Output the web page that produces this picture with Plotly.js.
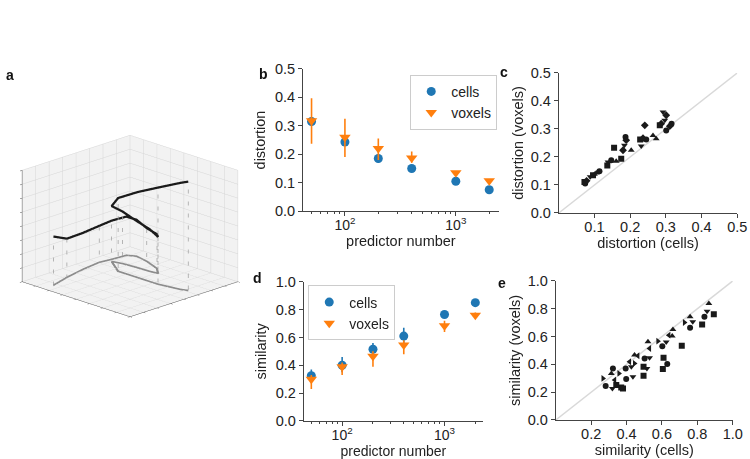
<!DOCTYPE html>
<html>
<head>
<meta charset="utf-8">
<script src="https://cdn.plot.ly/plotly-3.0.1.min.js"></script>
<style>html,body{margin:0;padding:0;background:#fff;}#chart{width:750px;height:459px;}</style>
</head>
<body>
<div id="chart"></div>
<script>
// ---------- data ----------
// panel a: 3D curve (normalised box coordinates)
const curveX = [0.91,0.735,0.55,0.37,0.27,0.145,0.11,0.135,0.19,0.255,0.265,0.27,0.28,0.30,0.41,0.41,0.41,0.38,0.36];
const curveY = [0.20,0.15,0.11,0.085,0.10,0.11,0.17,0.29,0.44,0.515,0.45,0.33,0.21,0.13,0.30,0.48,0.67,0.85,0.90];
const curveZ = [0.44,0.35,0.33,0.33,0.35,0.35,0.33,0.30,0.31,0.33,0.38,0.42,0.47,0.50,0.66,0.77,0.87,0.96,0.98];
const dropIdx = [0,1,3,4,7,8,9,12,14,16,18];

// panels b and d
const predictors = [50,100,200,400,1000,2000];
const cellsDist = [0.315,0.243,0.185,0.150,0.105,0.075];
const cellsDistLo = [0.300,0.235,0.170,0.140,0.100,0.070];
const cellsDistHi = [0.330,0.252,0.200,0.160,0.110,0.080];
const voxDist = [0.318,0.260,0.220,0.187,0.135,0.107];
const voxDistLo = [0.237,0.190,0.180,0.170,0.128,0.100];
const voxDistHi = [0.397,0.325,0.255,0.210,0.140,0.112];

const cellsSim = [0.325,0.400,0.515,0.610,0.765,0.850];
const cellsSimLo = [0.290,0.350,0.470,0.560,0.750,0.840];
const cellsSimHi = [0.370,0.460,0.560,0.670,0.780,0.860];
const voxSim = [0.300,0.390,0.465,0.545,0.685,0.760];
const voxSimLo = [0.230,0.330,0.390,0.480,0.640,0.740];
const voxSimHi = [0.330,0.420,0.500,0.580,0.720,0.780];

// panel c: distortion cells vs voxels, one series per marker
const cCircleX = [0.074,0.114,0.147,0.187,0.245,0.301,0.316];
const cCircleY = [0.105,0.149,0.188,0.271,0.262,0.295,0.319];
const cSquareX = [0.072,0.096,0.136,0.155,0.175,0.228,0.283];
const cSquareY = [0.111,0.135,0.170,0.233,0.194,0.262,0.313];
const cUpX = [0.105,0.161,0.203,0.264,0.273,0.100];
const cUpY = [0.143,0.185,0.224,0.277,0.265,0.138];
const cDownX = [0.088,0.138,0.184,0.231,0.292,0.297];
const cDownY = [0.129,0.182,0.242,0.239,0.361,0.331];
const cDiaX = [0.180,0.189,0.241,0.236,0.287,0.301,0.311,0.078];
const cDiaY = [0.224,0.260,0.313,0.267,0.319,0.349,0.310,0.115];

// panel e: similarity cells vs voxels
const eRightX = [0.267,0.357,0.445,0.577,0.727];
const eRightY = [0.299,0.335,0.407,0.567,0.701];
const eUpX = [0.314,0.445,0.521,0.662,0.658,0.759,0.865];
const eUpY = [0.335,0.467,0.562,0.651,0.603,0.742,0.837];
const eDownX = [0.320,0.427,0.436,0.530,0.515,0.624,0.774,0.855];
const eDownY = [0.227,0.383,0.311,0.447,0.371,0.560,0.706,0.782];
const eCircleX = [0.282,0.323,0.398,0.395,0.502,0.602,0.630,0.759,0.840];
const eCircleY = [0.244,0.371,0.294,0.371,0.443,0.531,0.402,0.663,0.742];
const eSquareX = [0.342,0.370,0.380,0.496,0.496,0.609,0.605,0.712,0.827,0.893];
const eSquareY = [0.251,0.234,0.227,0.383,0.318,0.447,0.366,0.533,0.687,0.761];
const eLeftX = [0.333,0.417,0.464,0.530,0.639];
const eLeftY = [0.287,0.419,0.462,0.514,0.610];

const diagC = [0,0.5];
const diagE = [0,1];

// ---------- styling ----------
const FONT = 'Liberation Sans, Arial, Helvetica, sans-serif';
const BLUE = '#1f77b4', ORANGE = '#ff7f0e', AX = '#444';
const TICKF = {family: FONT, size: 14.5, color: '#222'};
const LOGTICKF = {family: FONT, size: 14, color: '#222'};
const TITLEF = {family: FONT, size: 14.5, color: '#222'};

function errs(v, lo, hi) {
  return {type:'data', symmetric:false,
    array: v.map((x,i)=>hi[i]-x), arrayminus: v.map((x,i)=>x-lo[i]),
    thickness:1.6, width:0};
}

const traces = [];

// ---- panel a (3D) ----
const dx=[],dy=[],dz=[];
dropIdx.forEach(i=>{dx.push(curveX[i],curveX[i],null);dy.push(curveY[i],curveY[i],null);dz.push(0,curveZ[i],null);});
traces.push({type:'scatter3d', mode:'lines', x:dx, y:dy, z:dz, scene:'scene',
  line:{color:'#a0a0a0', width:1.5, dash:'dash'}, showlegend:false, hoverinfo:'skip'});
traces.push({type:'scatter3d', mode:'lines', x:curveX, y:curveY, z:curveX.map(()=>0), scene:'scene',
  line:{color:'#8c8c8c', width:4.5}, showlegend:false});
traces.push({type:'scatter3d', mode:'lines', x:curveX, y:curveY, z:curveZ, scene:'scene',
  line:{color:'#1a1a1a', width:4.5}, showlegend:false});

// ---- panel b ----
traces.push({x:predictors, y:cellsDist, type:'scatter', mode:'markers', name:'cells',
  marker:{color:BLUE, size:9, symbol:'circle'}, error_y:Object.assign(errs(cellsDist,cellsDistLo,cellsDistHi),{color:BLUE}),
  xaxis:'x', yaxis:'y', legend:'legend'});
traces.push({x:predictors, y:voxDist, type:'scatter', mode:'markers', name:'voxels',
  marker:{color:ORANGE, size:10, symbol:'triangle-down'}, error_y:Object.assign(errs(voxDist,voxDistLo,voxDistHi),{color:ORANGE}),
  xaxis:'x', yaxis:'y', legend:'legend'});

// ---- panel c ----
traces.push({x:diagC, y:diagC, type:'scatter', mode:'lines', line:{color:'#d9d9d9', width:1.5}, xaxis:'x2', yaxis:'y2', showlegend:false, hoverinfo:'skip'});
[[cCircleX,cCircleY,'circle'],[cSquareX,cSquareY,'square'],[cUpX,cUpY,'triangle-up'],[cDownX,cDownY,'triangle-down'],[cDiaX,cDiaY,'diamond']].forEach(s=>{
  traces.push({x:s[0], y:s[1], type:'scatter', mode:'markers', marker:{color:'#1a1a1a', size:6, symbol:s[2]}, xaxis:'x2', yaxis:'y2', showlegend:false});
});

// ---- panel d ----
traces.push({x:predictors, y:cellsSim, type:'scatter', mode:'markers', name:'cells',
  marker:{color:BLUE, size:9, symbol:'circle'}, error_y:Object.assign(errs(cellsSim,cellsSimLo,cellsSimHi),{color:BLUE}),
  xaxis:'x3', yaxis:'y3', legend:'legend2'});
traces.push({x:predictors, y:voxSim, type:'scatter', mode:'markers', name:'voxels',
  marker:{color:ORANGE, size:10, symbol:'triangle-down'}, error_y:Object.assign(errs(voxSim,voxSimLo,voxSimHi),{color:ORANGE}),
  xaxis:'x3', yaxis:'y3', legend:'legend2'});

// ---- panel e ----
traces.push({x:diagE, y:diagE, type:'scatter', mode:'lines', line:{color:'#d9d9d9', width:1.5}, xaxis:'x4', yaxis:'y4', showlegend:false, hoverinfo:'skip'});
[[eCircleX,eCircleY,'circle'],[eSquareX,eSquareY,'square'],[eUpX,eUpY,'triangle-up'],[eDownX,eDownY,'triangle-down'],[eLeftX,eLeftY,'triangle-left'],[eRightX,eRightY,'triangle-right']].forEach(s=>{
  traces.push({x:s[0], y:s[1], type:'scatter', mode:'markers', marker:{color:'#1a1a1a', size:6, symbol:s[2]}, xaxis:'x4', yaxis:'y4', showlegend:false});
});

function axBase(extra){
  return Object.assign({showline:true, linecolor:AX, linewidth:1, ticks:'outside', ticklen:4, tickcolor:AX,
    tickfont:TICKF, showgrid:false, zeroline:false, fixedrange:true}, extra);
}
const logMinor = {tickvals:[50,60,70,80,90,200,300,400,500,600,700,800,900,2000], ticks:'outside', ticklen:2, tickcolor:AX, showgrid:false};

const ax3 = {range:[0,1], showticklabels:false, title:{text:''}, showbackground:true, backgroundcolor:'#f2f2f2',
  gridcolor:'#d6d6d6', gridwidth:1, dtick:0.125, tick0:0, showline:true, linecolor:'#555', ticks:'outside', ticklen:3, tickcolor:'#555',
  zeroline:false, showspikes:false};

const layout = {
  width:750, height:459, margin:{l:0,r:0,t:0,b:0}, paper_bgcolor:'#fff', plot_bgcolor:'#fff',
  font:{family:FONT, color:'#222'},
  scene:{domain:{x:[0,0.347], y:[0.238,0.778]},
    xaxis:ax3, yaxis:ax3, zaxis:Object.assign({},ax3),
    aspectmode:'manual', aspectratio:{x:1.23, y:1.23, z:0.95},
    camera:{eye:{x:1.05, y:1.05, z:0.51}, center:{x:0,y:0,z:0}, projection:{type:'orthographic'}},
    dragmode:false},
  xaxis: axBase({type:'log', range:[1.622,3.387], domain:[0.404,0.665], anchor:'y', tickvals:[100,1000], ticklabelstandoff:-3,
    tickfont:LOGTICKF, ticktext:['10<sup>2</sup>','10<sup>3</sup>'], minor:logMinor, title:{text:'predictor number', font:TITLEF, standoff:1}}),
  yaxis: axBase({range:[0,0.5], domain:[0.540,0.850], anchor:'x', tickvals:[0,0.1,0.2,0.3,0.4,0.5], tickformat:'.1f',
    title:{text:'distortion', font:TITLEF, standoff:5}}),
  xaxis2: axBase({range:[0,0.5], domain:[0.745,0.983], anchor:'y2', tickvals:[0.1,0.2,0.3,0.4,0.5], tickformat:'.1f', ticklabelstandoff:-3,
    title:{text:'distortion (cells)', font:TITLEF, standoff:0}}),
  yaxis2: axBase({range:[0,0.5], domain:[0.536,0.841], anchor:'x2', tickvals:[0,0.1,0.2,0.3,0.4,0.5], tickformat:'.1f',
    title:{text:'distortion (voxels)', font:TITLEF, standoff:3}}),
  xaxis3: axBase({type:'log', range:[1.625,3.376], domain:[0.405,0.644], anchor:'y3', tickvals:[100,1000], ticklabelstandoff:-3,
    tickfont:LOGTICKF, ticktext:['10<sup>2</sup>','10<sup>3</sup>'], minor:logMinor, title:{text:'predictor number', font:{family:FONT, size:14, color:'#222'}, standoff:4}}),
  yaxis3: axBase({range:[0,1], domain:[0.083,0.386], anchor:'x3', tickvals:[0,0.2,0.4,0.6,0.8,1.0], tickformat:'.1f',
    title:{text:'similarity', font:TITLEF, standoff:5}}),
  xaxis4: axBase({range:[0,1], domain:[0.741,0.977], anchor:'y4', tickvals:[0.2,0.4,0.6,0.8,1.0], tickformat:'.1f', ticklabelstandoff:-3,
    title:{text:'similarity (cells)', font:TITLEF, standoff:1}}),
  yaxis4: axBase({range:[0,1], domain:[0.085,0.388], anchor:'x4', tickvals:[0,0.2,0.4,0.6,0.8,1.0], tickformat:'.1f',
    title:{text:'similarity (voxels)', font:TITLEF, standoff:3}}),
  legend:{x:0.547, y:0.837, xanchor:'left', yanchor:'top', bgcolor:'#fff', bordercolor:'#ccc', borderwidth:1,
    font:{family:FONT, size:14, color:'#222'}, itemwidth:30, tracegroupgap:0},
  legend2:{x:0.411, y:0.378, xanchor:'left', yanchor:'top', bgcolor:'#fff', bordercolor:'#ccc', borderwidth:1,
    font:{family:FONT, size:14, color:'#222'}, itemwidth:30, tracegroupgap:0},
  annotations:[
    {text:'<b>a</b>', x:4/750, y:1-65/459, xref:'paper', yref:'paper', showarrow:false, font:{family:FONT,size:14,color:'#111'}},
    {text:'<b>b</b>', x:263/750, y:1-64/459, xref:'paper', yref:'paper', showarrow:false, font:{family:FONT,size:14,color:'#111'}},
    {text:'<b>c</b>', x:510/750, y:1-62/459, xref:'paper', yref:'paper', showarrow:false, font:{family:FONT,size:14,color:'#111'}},
    {text:'<b>d</b>', x:257/750, y:1-278/459, xref:'paper', yref:'paper', showarrow:false, font:{family:FONT,size:14,color:'#111'}},
    {text:'<b>e</b>', x:508/750, y:1-283/459, xref:'paper', yref:'paper', showarrow:false, font:{family:FONT,size:14,color:'#111'}}
  ]
};

Plotly.newPlot('chart', traces, layout, {displayModeBar:false, staticPlot:false});
</script>
</body>
</html>
